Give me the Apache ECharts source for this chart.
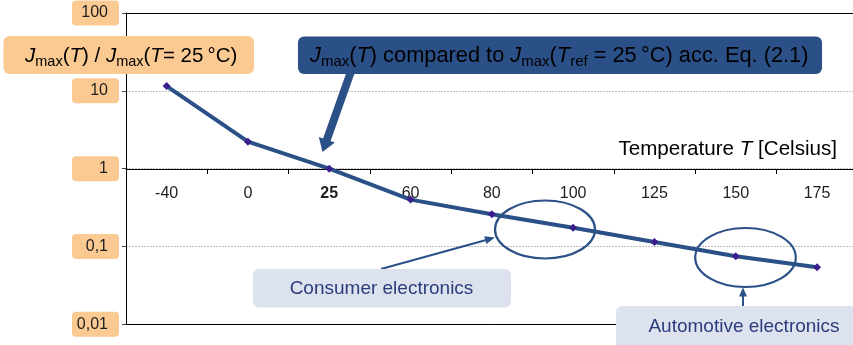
<!DOCTYPE html>
<html>
<head>
<meta charset="utf-8">
<script src="https://cdn.jsdelivr.net/npm/echarts@6/dist/echarts.min.js"></script>
<style>
  html, body { margin: 0; padding: 0; background: #fff; }
  #chart { width: 853px; height: 345px; }
</style>
</head>
<body>
<div id="chart"></div>
<script>
// Temperature points (Celsius) and normalised current-density ratio Jmax(T)/Jmax(25°C)
const categories = ['-40', '0', '25', '60', '80', '100', '125', '150', '175'];
const jRatio = [11.5, 2.22, 1, 0.40, 0.26, 0.174, 0.114, 0.075, 0.054];
// Decade labels of the logarithmic axis, from 10^-2 up to 10^2
const yTickLabels = ['0,01', '0,1', '1', '10', '100'];

const FONT = 'Arial, "Liberation Sans", Helvetica, sans-serif';
const NAVY = '#2B5087';
const BOX_TEXT = '#2C3B7C';

const chart = echarts.init(document.getElementById('chart'), null, { renderer: 'canvas' });

// rich styles for formula text with subscripts
function formulaRich(color, size, subSize) {
  return {
    n: { fontSize: size, fontFamily: FONT, color: color, lineHeight: 26 },
    i: { fontSize: size, fontFamily: FONT, fontStyle: 'italic', color: color, lineHeight: 26 },
    s: { fontSize: subSize, fontFamily: FONT, color: color, lineHeight: 14, verticalAlign: 'bottom' }
  };
}

function arrowHead(tipX, tipY, fromX, fromY, len, half) {
  const dx = tipX - fromX, dy = tipY - fromY;
  const d = Math.sqrt(dx * dx + dy * dy);
  const ux = dx / d, uy = dy / d, nx = -uy, ny = ux;
  const bx = tipX - ux * len, by = tipY - uy * len;
  return [[tipX, tipY], [bx + nx * half, by + ny * half], [bx - nx * half, by - ny * half]];
}

function thickArrow(sx, sy, px, py, shaftHalf, headHalf, headLen) {
  const dx = px - sx, dy = py - sy;
  const d = Math.sqrt(dx * dx + dy * dy);
  const ux = dx / d, uy = dy / d, nx = -uy, ny = ux;
  const bx = px - ux * headLen, by = py - uy * headLen;
  return [
    [sx + nx * shaftHalf, sy + ny * shaftHalf],
    [bx + nx * shaftHalf, by + ny * shaftHalf],
    [bx + nx * headHalf, by + ny * headHalf],
    [px, py],
    [bx - nx * headHalf, by - ny * headHalf],
    [bx - nx * shaftHalf, by - ny * shaftHalf],
    [sx - nx * shaftHalf, sy - ny * shaftHalf]
  ];
}

const graphics = [
  // y-axis title box
  { type: 'rect', silent: true, z: 20, shape: { x: 3.5, y: 36, width: 250.5, height: 38, r: 6 },
    style: { fill: '#FBCA93' } },
  { type: 'text', silent: true, z: 21, x: 25, y: 56,
    style: {
      text: '{i|J}{s|max}{n|(}{i|T}{n|) / }{i|J}{s|max}{n|(}{i|T}{n|= 25\u2009°C)}',
      rich: formulaRich('#1e1e1e', 20.5, 14.5), verticalAlign: 'middle', align: 'left'
    } },
  // formula callout box
  { type: 'rect', silent: true, z: 20, shape: { x: 298, y: 36.5, width: 524, height: 37.5, r: 6 },
    style: { fill: NAVY } },
  { type: 'polygon', silent: true, z: 20,
    shape: { points: thickArrow(351.5, 70, 322.5, 152, 4, 8.5, 13) },
    style: { fill: NAVY } },
  { type: 'text', silent: true, z: 21, x: 310, y: 56,
    style: {
      text: '{i|J}{s|max}{n|(}{i|T}{n|) compared to }{i|J}{s|max}{n|(}{i|T}{s|ref}{n| = 25\u2009°C) acc. Eq. (2.1)}',
      rich: formulaRich('#ffffff', 21.8, 15), verticalAlign: 'middle', align: 'left'
    } },
  // axis name
  { type: 'text', silent: true, z: 21, x: 837, y: 149,
    style: {
      text: '{n|Temperature }{i|T}{n| [Celsius]}',
      rich: {
        n: { fontSize: 20.6, fontFamily: FONT, color: '#1e1e1e' },
        i: { fontSize: 20.6, fontFamily: FONT, fontStyle: 'italic', color: '#1e1e1e' }
      },
      verticalAlign: 'middle', align: 'right'
    } },
  // consumer electronics range
  { type: 'ellipse', silent: true, z: 15, shape: { cx: 545, cy: 229.5, rx: 50, ry: 29 },
    style: { fill: null, stroke: NAVY, lineWidth: 2.2 } },
  { type: 'line', silent: true, z: 15, shape: { x1: 381, y1: 269, x2: 488, y2: 239.5 },
    style: { stroke: NAVY, lineWidth: 2 } },
  { type: 'polygon', silent: true, z: 15, shape: { points: arrowHead(495, 237.5, 381, 269, 10, 4) },
    style: { fill: NAVY } },
  { type: 'rect', silent: true, z: 20, shape: { x: 253, y: 269, width: 258, height: 38.5, r: 6 },
    style: { fill: '#DCE3EF' } },
  { type: 'text', silent: true, z: 21, x: 381.5, y: 288.5,
    style: { text: 'Consumer electronics', font: '19px ' + FONT, fill: BOX_TEXT,
      align: 'center', verticalAlign: 'middle' } },
  // automotive electronics range
  { type: 'ellipse', silent: true, z: 15, shape: { cx: 745.5, cy: 257.5, rx: 50.3, ry: 29.5 },
    style: { fill: null, stroke: NAVY, lineWidth: 2.2 } },
  { type: 'line', silent: true, z: 15, shape: { x1: 743, y1: 306, x2: 743, y2: 295 },
    style: { stroke: NAVY, lineWidth: 2 } },
  { type: 'polygon', silent: true, z: 15, shape: { points: arrowHead(743, 287.5, 743, 306, 9, 4) },
    style: { fill: NAVY } },
  { type: 'rect', silent: true, z: 20, shape: { x: 616, y: 306, width: 250, height: 45, r: 6 },
    style: { fill: '#DCE3EF' } },
  { type: 'text', silent: true, z: 21, x: 744, y: 327,
    style: { text: 'Automotive electronics', font: '19px ' + FONT, fill: BOX_TEXT,
      align: 'center', verticalAlign: 'middle' } }
];

// plain frame lines along the top and bottom of the plot area
const frameAxis = (pos) => ({
  type: 'category',
  data: categories,
  position: pos,
  axisLine: { show: true, lineStyle: { color: '#000', width: 1 } },
  axisTick: { show: false },
  axisLabel: { show: false },
  splitLine: { show: false }
});

const option = {
  backgroundColor: '#ffffff',
  animation: false,
  textStyle: { fontFamily: FONT },
  grid: {
    left: 126, top: 13, right: -4.7, bottom: 20.7,
    containLabel: false, outerBoundsMode: 'none'
  },
  xAxis: [{
    type: 'category',
    data: categories,
    boundaryGap: true,
    position: 'bottom',
    offset: -155.3,
    axisLine: { show: true, lineStyle: { color: '#000', width: 1 } },
    axisTick: { show: true, length: 5, lineStyle: { color: '#000' } },
    axisLabel: {
      color: '#1e1e1e', fontSize: 16, margin: 17, fontFamily: FONT,
      formatter: v => (v === '25' ? '{b|' + v + '}' : v),
      rich: { b: { fontWeight: 'bold', fontSize: 16, fontFamily: FONT, color: '#1e1e1e' } }
    },
    splitLine: { show: false }
  }, frameAxis('top'), frameAxis('bottom')],
  yAxis: {
    type: 'log',
    logBase: 10,
    min: 0.01,
    max: 100,
    splitNumber: 4,
    axisLine: { show: true, lineStyle: { color: '#000', width: 1 } },
    axisTick: { show: true, length: 4, lineStyle: { color: '#444' } },
    axisLabel: {
      margin: 7,
      color: '#1e1e1e',
      fontSize: 16,
      fontFamily: FONT,
      backgroundColor: '#FBCA93',
      borderRadius: 4,
      padding: [4, 11, 4, 2],
      width: 34,
      lineHeight: 17,
      align: 'right',
      formatter: v => yTickLabels[Math.round(Math.log10(v)) + 2]
    },
    splitLine: { show: true, lineStyle: { color: '#bdbdbd', type: [2, 1], width: 1 } }
  },
  series: [{
    type: 'line',
    data: jRatio,
    lineStyle: { color: NAVY, width: 4 },
    symbol: 'diamond',
    symbolSize: 8,
    itemStyle: { color: '#3A1F8C' },
    z: 5
  }],
  graphic: graphics
};

chart.setOption(option);
</script>
</body>
</html>
